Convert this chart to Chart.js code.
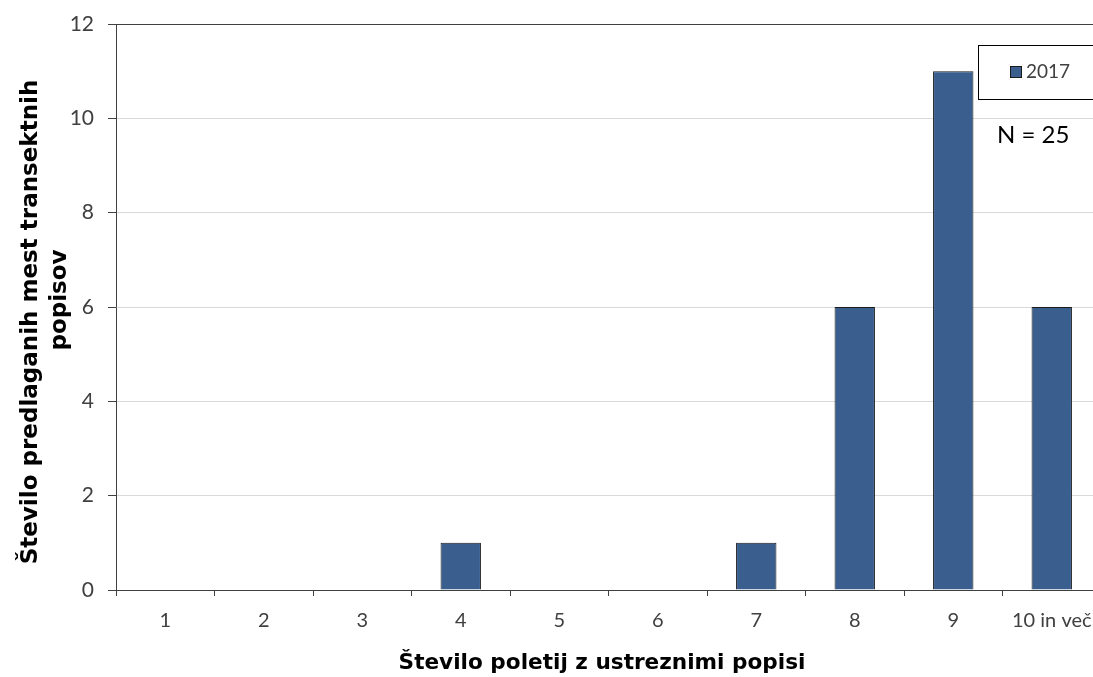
<!DOCTYPE html>
<html>
<head>
<meta charset="utf-8">
<script src="https://cdn.jsdelivr.net/npm/chart.js@4"></script>
<style>
html,body{margin:0;padding:0;background:#fff;}
#wrap{width:1093px;height:677px;overflow:hidden;position:relative;}
canvas{display:block;}
</style>
</head>
<body>
<div id="wrap"><canvas id="c" width="1110" height="677" style="width:1110px;height:677px"></canvas></div>
<script>
const categories = ['1','2','3','4','5','6','7','8','9','10 in več'];
const seriesLabel = '2017';
const values2017 = [0,0,0,1,0,0,1,6,11,6];
const yMin = 0, yMax = 12, yStep = 2;
const xTitle = 'Število poletij z ustreznimi popisi';
const yTitle = ['Število predlaganih mest transektnih','popisov'];
const note = 'N = 25';

const FONT = 'Lato, "Open Sans", sans-serif';
const TITLE_FONT = '"DejaVu Sans", Verdana, sans-serif';
const barColor = '#3A5F8E';

function fitSize(ctx, text, weight, family, target){
  ctx.font = weight + ' 100px ' + family;
  return 100 * target / ctx.measureText(text).width;
}

const overlay = {
  id:'overlay',
  afterDraw(chart){
    const ctx = chart.ctx;
    ctx.save();
    ctx.fillStyle = '#000';
    ctx.textAlign = 'center';
    ctx.textBaseline = 'middle';
    const s1 = fitSize(ctx, yTitle[0], 'bold', TITLE_FONT, 485);
    ctx.font = 'bold ' + s1 + 'px ' + TITLE_FONT;
    ctx.save();
    ctx.translate(31, 322);
    ctx.rotate(-Math.PI/2);
    ctx.fillText(yTitle[0], 0, 0);
    ctx.restore();
    ctx.save();
    ctx.translate(60, 300);
    ctx.rotate(-Math.PI/2);
    ctx.fillText(yTitle[1], 0, 0);
    ctx.restore();
    const s2 = fitSize(ctx, xTitle, 'bold', TITLE_FONT, 407);
    ctx.font = 'bold ' + s2 + 'px ' + TITLE_FONT;
    ctx.fillText(xTitle, 602, 663);
    // legend box
    ctx.fillStyle = '#fff';
    ctx.fillRect(978.5, 45.5, 130, 54);
    ctx.strokeStyle = '#000';
    ctx.lineWidth = 1;
    ctx.strokeRect(978.5, 45.5, 130, 54);
    ctx.fillStyle = barColor;
    ctx.fillRect(1010.5, 66.5, 11, 11);
    ctx.strokeStyle = '#1a1a1a';
    ctx.strokeRect(1010.5, 66.5, 11, 11);
    ctx.fillStyle = '#404040';
    ctx.font = '19px ' + FONT;
    ctx.textAlign = 'left';
    ctx.fillText(chart.data.datasets[0].label, 1026, 72);
    ctx.fillStyle = '#000';
    ctx.font = '24px ' + FONT;
    ctx.fillText(note, 997, 135);
    ctx.restore();
  }
};

new Chart(document.getElementById('c'), {
  type:'bar',
  data:{
    labels: categories,
    datasets:[{
      label: seriesLabel,
      data: values2017,
      backgroundColor: barColor,
      borderColor: '#1a1a1a',
      borderWidth: 1,
      barPercentage: 0.41,
      categoryPercentage: 1.0
    }]
  },
  options:{
    responsive:false,
    animation:false,
    layout:{padding:{top:24,right:9,left:0,bottom:0}},
    plugins:{legend:{display:false},tooltip:{enabled:false}},
    scales:{
      x:{
        offset:true,
        grid:{display:true,drawOnChartArea:false,offset:true,tickLength:6,color:'#404040'},
        border:{color:'#404040',width:1},
        ticks:{color:'#404040',font:{family:FONT,size:20},padding:13,maxRotation:0,autoSkip:false},
        afterFit(s){ s.height = 87; s.paddingLeft = 0; s.paddingRight = 0; }
      },
      y:{
        min:yMin,max:yMax,
        ticks:{stepSize:yStep,color:'#404040',font:{family:FONT,size:21},padding:14},
        grid:{color:(c)=> c.tick && c.tick.value===yMax ? '#404040' : '#d9d9d9', tickColor:'#404040', tickLength:8},
        border:{color:'#404040',width:1},
        afterFit(s){ s.width = 116; s.paddingTop = 0; s.paddingBottom = 0; }
      }
    }
  },
  plugins:[overlay]
});
</script>
</body>
</html>
